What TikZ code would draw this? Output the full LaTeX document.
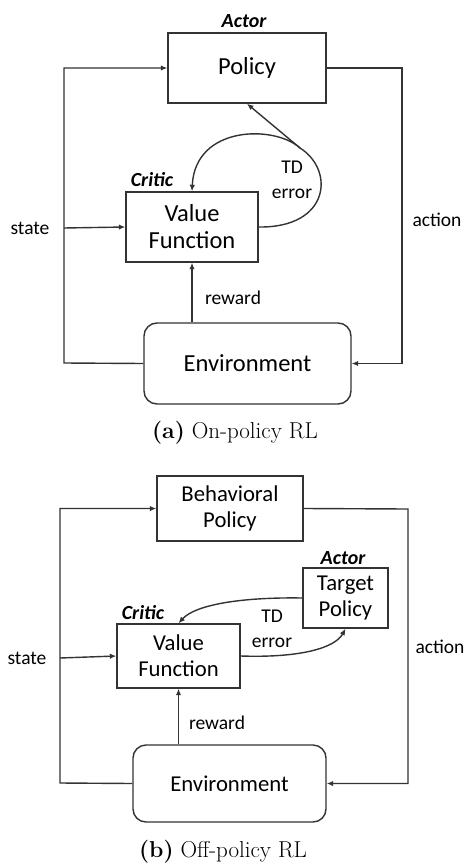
\documentclass[tikz,border=0pt]{standalone}
\usepackage{fontspec}
\usetikzlibrary{arrows.meta}
\newfontfamily\boxfont{Carlito}
\begin{document}
\begin{tikzpicture}[x=1pt,y=-1pt,
  line width=1.4pt, draw=black!80,
  arr/.style={-{Latex[length=6.5pt,width=5.5pt]}},
  blk/.style={draw, line width=1.4pt, align=center, inner sep=0pt, font=\boxfont\fontsize{24.5}{29}\selectfont},
  blkb/.style={blk, font=\boxfont\fontsize{22.7}{27}\selectfont},
  envbox/.style={rounded corners=13pt},
  lbl/.style={font=\boxfont\fontsize{19.5}{24}\selectfont, align=center, inner sep=0pt},
  role/.style={font=\boxfont\bfseries\itshape\fontsize{20}{24}\selectfont, inner sep=0pt},
  captext/.style={font=\fontsize{23}{27}\selectfont, inner sep=0pt}]
\useasboundingbox (0,0) rectangle (464,864);

% ---------- (a) on-policy ----------
\node[blk, minimum width=158pt, minimum height=70pt] (pol) at (247,68) {Policy};
\node[blk, minimum width=132pt, minimum height=70pt] (vf) at (192,227) {Value\\[-2pt]Function};
\node[blk, envbox, minimum width=207pt, minimum height=81pt] (env) at (247.5,363.5) {Environment};
\node[role] (actA) at (244,21) {Actor};
\node[role] (critA) at (152,180) {Critic};

\coordinate (slA) at (64,363);
\coordinate (sjA) at (64,228);
\coordinate (arA) at (402,68);
\coordinate (tdjA) at (300,148);

\draw[arr] (env.west) -- (slA) |- (pol.west);
\draw[arr] (sjA) -- (vf.west);
\draw[arr] (pol.east) -- (arA) |- (env.east);
\draw[arr] (vf.south |- env.north) -- (vf.south);
\draw (vf.east) .. controls (330,228) and (335,170) .. (tdjA);
\draw[arr] (tdjA) .. controls (275,125) and (195,125) .. (vf.north);
\draw[arr] (tdjA) -- (pol.south);

\node[lbl] (tdA) at (292,180) {TD\\[1pt]error};
\node[lbl] (stA) at (30,228) {state};
\node[lbl] (acA) at (437,220) {action};
\node[lbl] (rwA) at (233,298) {reward};
\node[captext] (capA) at (235,433) {\textbf{(a)} On-policy RL};

% ---------- (b) off-policy ----------
\node[blkb, minimum width=146pt, minimum height=65pt] (bp) at (230,508.5) {Behavioral\\[-1pt]Policy};
\node[blkb, minimum width=85pt, minimum height=60pt] (tp) at (345.5,598) {Target\\[-1pt]Policy};
\node[blkb, minimum width=123pt, minimum height=64pt] (vfb) at (178.5,656) {Value\\[-1pt]Function};
\node[blkb, envbox, minimum width=193pt, minimum height=77pt] (envb) at (229.5,783.5) {Environment};
\node[role] (actB) at (343,558) {Actor};
\node[role] (critB) at (143,613) {Critic};

\coordinate (slB) at (60,783);
\coordinate (sjB) at (60,658);
\coordinate (arB) at (408,509);

\draw[arr] (envb.west) -- (slB) |- (bp.west);
\draw[arr] (sjB) -- (vfb.west);
\draw[arr] (bp.east) -- (arB) |- (envb.east);
\draw[arr] (vfb.south |- envb.north) -- (vfb.south);
\draw[arr] (tp.west) .. controls (240,597) and (195,605) .. (vfb.north);
\draw[arr] (vfb.east) .. controls (300,658) and (335,648) .. (tp.south);

\node[lbl] (tdB) at (272,628.5) {TD\\[1pt]error};
\node[lbl] (stB) at (27,658) {state};
\node[lbl] (acB) at (440,647) {action};
\node[lbl] (rwB) at (217,723) {reward};
\node[captext] (capB) at (223,852) {\textbf{(b)} Off-policy RL};
\end{tikzpicture}
\end{document}
